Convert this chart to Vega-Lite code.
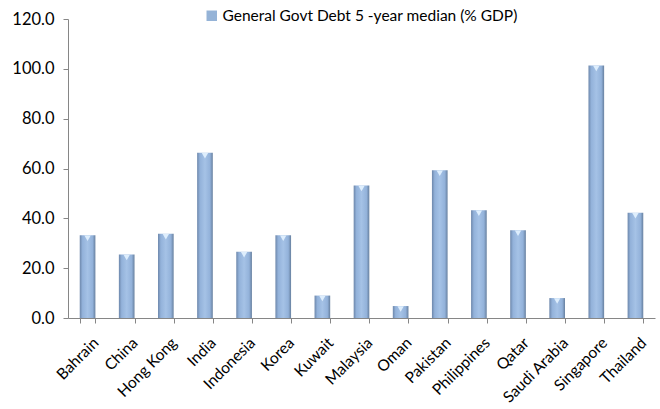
{
  "$schema": "https://vega.github.io/schema/vega-lite/v6.json",
  "autosize": "none",
  "width": 587,
  "height": 299,
  "padding": {"left": 68, "top": 19, "right": 5, "bottom": 91},
  "background": "white",
  "config": {
    "view": {"stroke": null},
    "font": "Lato",
    "axis": {"labelFont": "Lato", "labelColor": "#000000", "labelFontSize": 16.5, "domainColor": "#868686", "tickColor": "#868686", "grid": false, "title": null}
  },
  "data": {
    "values": [
      {"country": "Bahrain", "debt": 33.2, "series": "General Govt Debt 5 -year median (% GDP)"},
      {"country": "China", "debt": 25.5, "series": "General Govt Debt 5 -year median (% GDP)"},
      {"country": "Hong Kong", "debt": 33.8, "series": "General Govt Debt 5 -year median (% GDP)"},
      {"country": "India", "debt": 66.3, "series": "General Govt Debt 5 -year median (% GDP)"},
      {"country": "Indonesia", "debt": 26.6, "series": "General Govt Debt 5 -year median (% GDP)"},
      {"country": "Korea", "debt": 33.2, "series": "General Govt Debt 5 -year median (% GDP)"},
      {"country": "Kuwait", "debt": 9.0, "series": "General Govt Debt 5 -year median (% GDP)"},
      {"country": "Malaysia", "debt": 53.2, "series": "General Govt Debt 5 -year median (% GDP)"},
      {"country": "Oman", "debt": 4.8, "series": "General Govt Debt 5 -year median (% GDP)"},
      {"country": "Pakistan", "debt": 59.3, "series": "General Govt Debt 5 -year median (% GDP)"},
      {"country": "Philippines", "debt": 43.2, "series": "General Govt Debt 5 -year median (% GDP)"},
      {"country": "Qatar", "debt": 35.2, "series": "General Govt Debt 5 -year median (% GDP)"},
      {"country": "Saudi Arabia", "debt": 8.0, "series": "General Govt Debt 5 -year median (% GDP)"},
      {"country": "Singapore", "debt": 101.3, "series": "General Govt Debt 5 -year median (% GDP)"},
      {"country": "Thailand", "debt": 42.2, "series": "General Govt Debt 5 -year median (% GDP)"}
    ]
  },
  "encoding": {
    "x": {"field": "country", "type": "nominal", "sort": null,
      "scale": {"paddingInner": 0.6, "paddingOuter": 0.3},
      "axis": {"labelAngle": -45, "labelFontSize": 15.5, "tickBand": "extent", "tickSize": 5, "labelPadding": 12, "labelOffset": 3}},
    "y": {"field": "debt", "type": "quantitative",
      "scale": {"domain": [0, 120], "nice": false},
      "axis": {"values": [0, 20, 40, 60, 80, 100, 120], "format": ".1f", "tickSize": 5, "labelPadding": 9}}
  },
  "layer": [
    {
      "mark": {"type": "bar",
        "color": {"gradient": "linear", "x1": 0, "x2": 1, "y1": 0, "y2": 0,
          "stops": [
            {"offset": 0, "color": "#6d87ab"},
            {"offset": 0.18, "color": "#93b2da"},
            {"offset": 0.5, "color": "#a5c2e6"},
            {"offset": 0.82, "color": "#93b2da"},
            {"offset": 1, "color": "#67809f"}
          ]}}
    },
    {
      "mark": {"type": "point", "shape": "triangle-down", "filled": true, "color": "#e4f3ff", "opacity": 0.9, "size": 40, "yOffset": 3}
    },
    {
      "mark": {"type": "point", "shape": "square", "filled": true, "opacity": 0},
      "encoding": {
        "fill": {"field": "series", "type": "nominal",
          "scale": {"range": ["#95b3d7"]},
          "legend": {"orient": "none", "legendX": 136, "legendY": -11, "title": null, "labelLimit": 500,
            "symbolType": "square", "symbolSize": 110, "symbolOpacity": 1, "labelFontSize": 15.5, "labelFont": "Lato", "labelColor": "#000000", "symbolStrokeWidth": 0, "labelOffset": 3}}
      }
    }
  ]
}
